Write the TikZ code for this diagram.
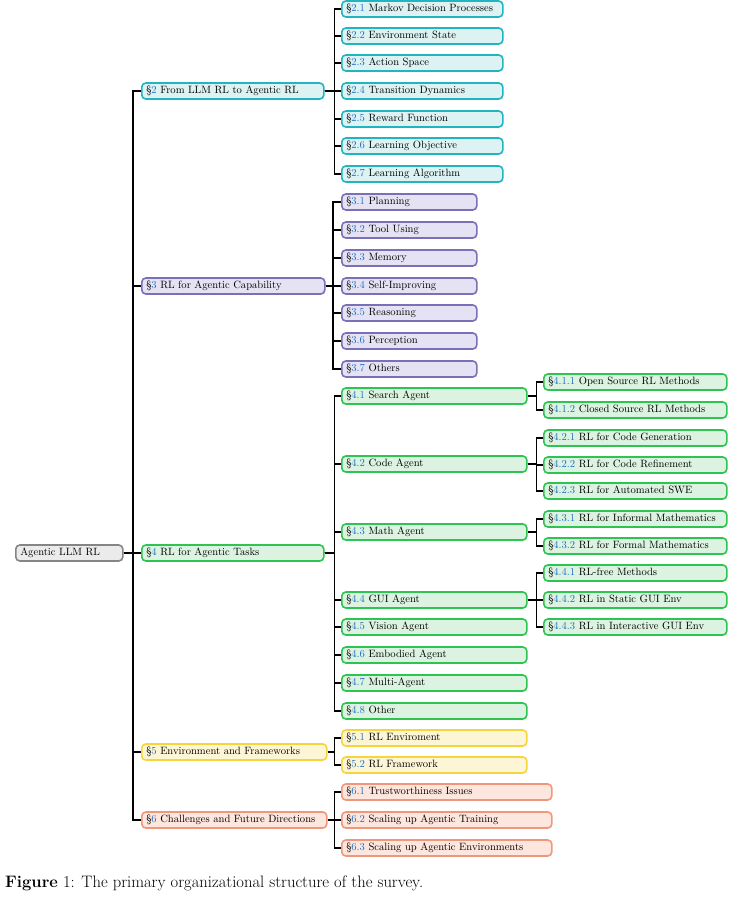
\documentclass[tikz,border=0pt]{standalone}
\usepackage{xcolor}
\definecolor{secblue}{HTML}{1F6FC5}
\definecolor{tealB}{HTML}{22B5BF}\definecolor{tealF}{HTML}{DDF2F3}
\definecolor{purB}{HTML}{7A70B8}\definecolor{purF}{HTML}{E5E3F3}
\definecolor{grnB}{HTML}{2EC452}\definecolor{grnF}{HTML}{DBF3E0}
\definecolor{yelB}{HTML}{F6D53C}\definecolor{yelF}{HTML}{FDF6D6}
\definecolor{orgB}{HTML}{F0977B}\definecolor{orgF}{HTML}{FDE6DD}
\definecolor{gryB}{HTML}{858585}\definecolor{gryF}{HTML}{EBEBEB}
\newcommand\mysn[1]{\S\textcolor{secblue}{#1}}
\begin{document}
\begin{tikzpicture}[x=1pt,y=-1pt,
  box/.style={draw, line width=1.6pt, rounded corners=4pt, anchor=west,
    minimum height=16pt, inner xsep=4.5pt, inner ysep=0pt, align=left,
    text height=7.5pt, text depth=2.2pt, font=\fontsize{10.6}{12}\selectfont},
  w/.style={text width=#1-9pt},
  tl/.style={box, draw=tealB, fill=tealF},
  pu/.style={box, draw=purB, fill=purF},
  gr/.style={box, draw=grnB, fill=grnF},
  ye/.style={box, draw=yelB, fill=yelF},
  og/.style={box, draw=orgB, fill=orgF},
  gy/.style={box, draw=gryB, fill=gryF},
  edge/.style={draw=black, line width=1.3pt}]
\useasboundingbox (0,0) rectangle (732,897);
% root
\node[gy, w=107pt] (root) at (15,553) {Agentic LLM RL};
% level 1
\node[tl, w=182pt] (s2) at (141,91) {\mysn{2} From LLM RL to Agentic RL};
\node[pu, w=183pt] (s3) at (141,286) {\mysn{3} RL for Agentic Capability};
\node[gr, w=182pt] (s4) at (141,553) {\mysn{4} RL for Agentic Tasks};
\node[ye, w=185pt] (s5) at (141,752) {\mysn{5} Environment and Frameworks};
\node[og, w=185pt] (s6) at (141,820) {\mysn{6} Challenges and Future Directions};
% level 2: section 2
\node[tl, w=161pt] (s21) at (341,9) {\mysn{2.1} Markov Decision Processes};
\node[tl, w=161pt] (s22) at (341,36) {\mysn{2.2} Environment State};
\node[tl, w=161pt] (s23) at (341,63) {\mysn{2.3} Action Space};
\node[tl, w=161pt] (s24) at (341,91) {\mysn{2.4} Transition Dynamics};
\node[tl, w=161pt] (s25) at (341,119) {\mysn{2.5} Reward Function};
\node[tl, w=161pt] (s26) at (341,146) {\mysn{2.6} Learning Objective};
\node[tl, w=161pt] (s27) at (341,174) {\mysn{2.7} Learning Algorithm};
% section 3
\node[pu, w=135pt] (s31) at (341,202) {\mysn{3.1} Planning};
\node[pu, w=135pt] (s32) at (341,230) {\mysn{3.2} Tool Using};
\node[pu, w=135pt] (s33) at (341,258) {\mysn{3.3} Memory};
\node[pu, w=135pt] (s34) at (341,286) {\mysn{3.4} Self-Improving};
\node[pu, w=135pt] (s35) at (341,313) {\mysn{3.5} Reasoning};
\node[pu, w=135pt] (s36) at (341,341) {\mysn{3.6} Perception};
\node[pu, w=135pt] (s37) at (341,369) {\mysn{3.7} Others};
% section 4
\node[gr, w=185pt] (s41) at (341,396) {\mysn{4.1} Search Agent};
\node[gr, w=185pt] (s42) at (341,464) {\mysn{4.2} Code Agent};
\node[gr, w=185pt] (s43) at (341,532) {\mysn{4.3} Math Agent};
\node[gr, w=185pt] (s44) at (341,600) {\mysn{4.4} GUI Agent};
\node[gr, w=185pt] (s45) at (341,627) {\mysn{4.5} Vision Agent};
\node[gr, w=185pt] (s46) at (341,655) {\mysn{4.6} Embodied Agent};
\node[gr, w=185pt] (s47) at (341,683) {\mysn{4.7} Multi-Agent};
\node[gr, w=185pt] (s48) at (341,711) {\mysn{4.8} Other};
% level 3
\node[gr, w=183pt] (s411) at (543,382) {\mysn{4.1.1} Open Source RL Methods};
\node[gr, w=183pt] (s412) at (543,410) {\mysn{4.1.2} Closed Source RL Methods};
\node[gr, w=183pt] (s421) at (543,438) {\mysn{4.2.1} RL for Code Generation};
\node[gr, w=183pt] (s422) at (543,465) {\mysn{4.2.2} RL for Code Refinement};
\node[gr, w=183pt] (s423) at (543,491) {\mysn{4.2.3} RL for Automated SWE};
\node[gr, w=183pt] (s431) at (543,519) {\mysn{4.3.1} RL for Informal Mathematics};
\node[gr, w=183pt] (s432) at (543,546) {\mysn{4.3.2} RL for Formal Mathematics};
\node[gr, w=183pt] (s441) at (543,573) {\mysn{4.4.1} RL-free Methods};
\node[gr, w=183pt] (s442) at (543,600) {\mysn{4.4.2} RL in Static GUI Env};
\node[gr, w=183pt] (s443) at (543,627) {\mysn{4.4.3} RL in Interactive GUI Env};
% section 5
\node[ye, w=185pt] (s51) at (341,738) {\mysn{5.1} RL Enviroment};
\node[ye, w=185pt] (s52) at (341,765) {\mysn{5.2} RL Framework};
% section 6
\node[og, w=210pt] (s61) at (341,792) {\mysn{6.1} Trustworthiness Issues};
\node[og, w=210pt] (s62) at (341,820) {\mysn{6.2} Scaling up Agentic Training};
\node[og, w=210pt] (s63) at (341,848) {\mysn{6.3} Scaling up Agentic Environments};
% connectors
\foreach \c in {s2,s3,s4,s5,s6}{\path[edge] (root.east) -- +(9.5,0) |- (\c.west);}
\foreach \c in {s21,s22,s23,s24,s25,s26,s27}{\path[edge] (s2.east) -- +(10,0) |- (\c.west);}
\foreach \c in {s31,s32,s33,s34,s35,s36,s37}{\path[edge] (s3.east) -- ([xshift=-8pt]s31.west |- s3.east) |- (\c.west);}
\foreach \c in {s41,s42,s43,s44,s45,s46,s47,s48}{\path[edge] (s4.east) -- +(10,0) |- (\c.west);}
\foreach \c in {s411,s412}{\path[edge] (s41.east) -- +(9,0) |- (\c.west);}
\foreach \c in {s421,s422,s423}{\path[edge] (s42.east) -- +(9,0) |- (\c.west);}
\foreach \c in {s431,s432}{\path[edge] (s43.east) -- +(9,0) |- (\c.west);}
\foreach \c in {s441,s442,s443}{\path[edge] (s44.east) -- +(9,0) |- (\c.west);}
\foreach \c in {s51,s52}{\path[edge] (s5.east) -- +(7,0) |- (\c.west);}
\foreach \c in {s61,s62,s63}{\path[edge] (s6.east) -- +(7,0) |- (\c.west);}
% caption
\node[anchor=base west, inner sep=0pt, font=\fontsize{16.6}{19}\selectfont] (cap) at (5,887)
  {\textbf{Figure} 1: The primary organizational structure of the survey.};
\end{tikzpicture}
\end{document}
